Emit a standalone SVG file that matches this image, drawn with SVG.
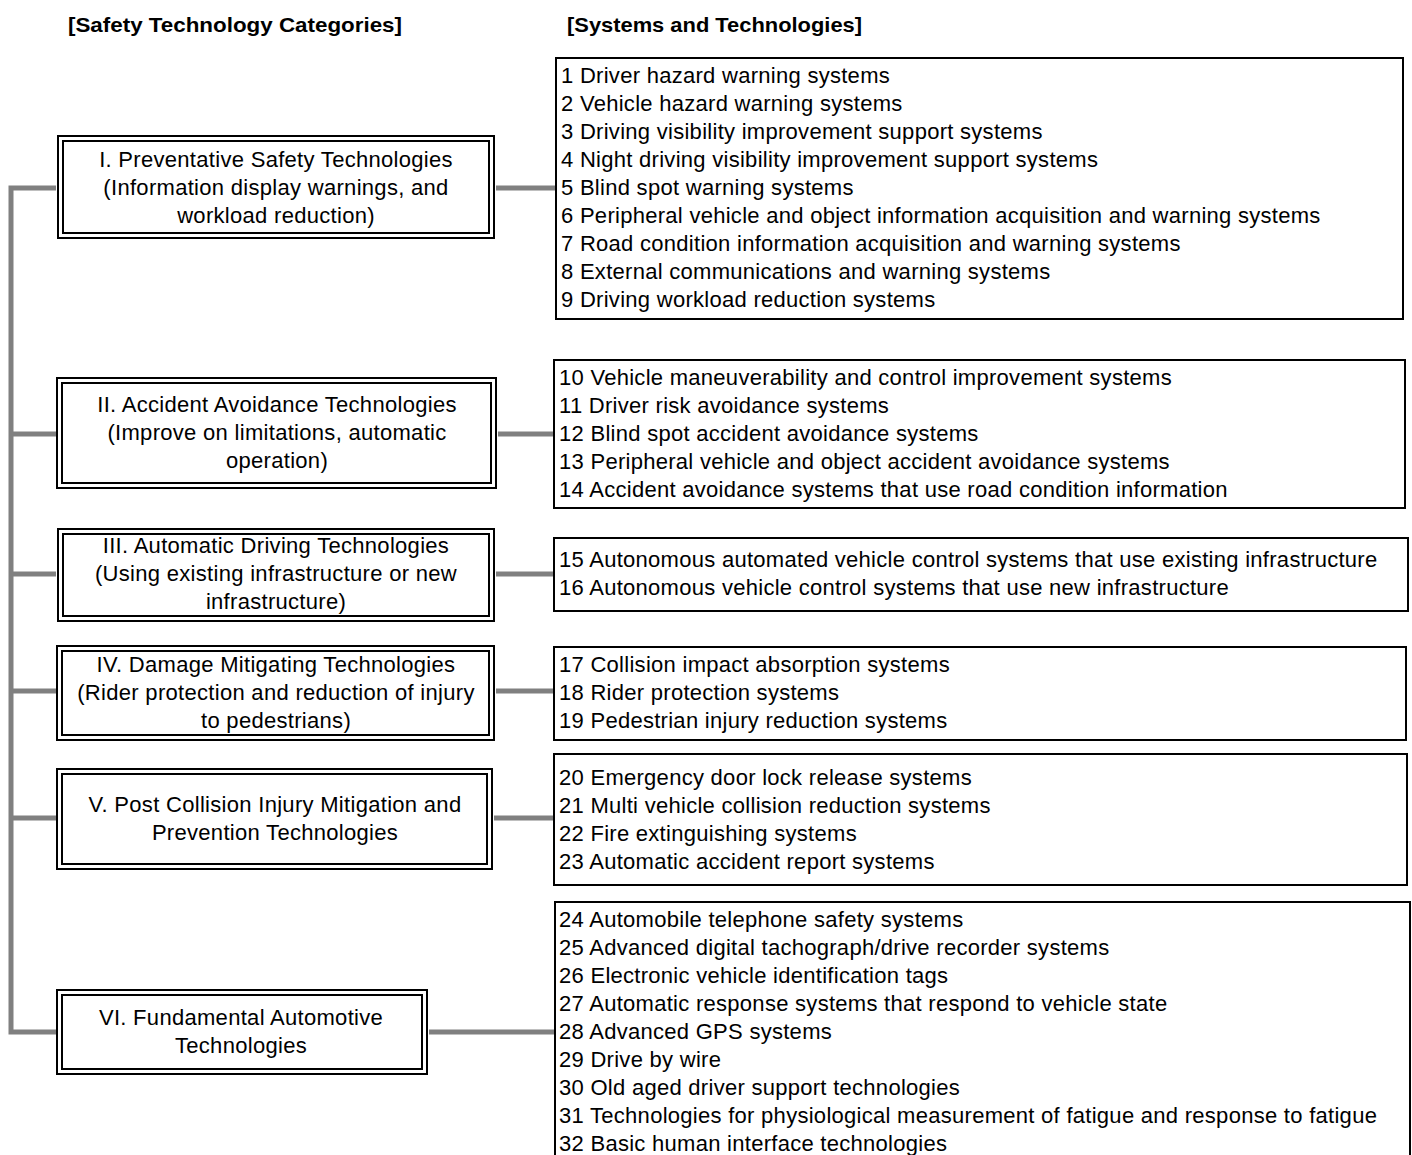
<svg xmlns="http://www.w3.org/2000/svg" width="1412" height="1155" viewBox="0 0 1412 1155">
<style>
text{font-family:"Liberation Sans",Arial,sans-serif;font-size:22px;fill:#000;letter-spacing:0.28px}
.hdr{font-weight:bold;font-size:21px;letter-spacing:0}
.cat{text-anchor:middle;letter-spacing:0.3px}
.o{fill:#fff;stroke:#000;stroke-width:2}
.i{fill:none;stroke:#000;stroke-width:2}
.lst{fill:#fff;stroke:#000;stroke-width:2}
.c{fill:none;stroke:#808080;stroke-width:5}
</style>
<rect width="1412" height="1155" fill="#fff"/>
<text class="hdr" x="68" y="32" textLength="334" lengthAdjust="spacingAndGlyphs">[Safety Technology Categories]</text>
<text class="hdr" x="567" y="32" textLength="295" lengthAdjust="spacingAndGlyphs">[Systems and Technologies]</text>
<g id="connectors">
<path class="c" d="M56 188H11V1032H56"/>
<path class="c" d="M11 434H56M11 574H56M11 691H56M11 818H56"/>
<path class="c" d="M496 188H556M498 434H554M496 574H554M496 691H554M494 818H554M429 1032H555"/>
</g>
<g id="cat1">
<rect class="o" x="58" y="136" width="436" height="102"/><rect class="i" x="63" y="141" width="426" height="92"/>
<text class="cat" x="276" y="167">I. Preventative Safety Technologies</text>
<text class="cat" x="276" y="195">(Information display warnings, and</text>
<text class="cat" x="276" y="223">workload reduction)</text>
</g>
<g id="cat2">
<rect class="o" x="57" y="378" width="439" height="110"/><rect class="i" x="62" y="383" width="429" height="100"/>
<text class="cat" x="277" y="412">II. Accident Avoidance Technologies</text>
<text class="cat" x="277" y="440">(Improve on limitations, automatic</text>
<text class="cat" x="277" y="468">operation)</text>
</g>
<g id="cat3">
<rect class="o" x="58" y="529" width="436" height="92"/><rect class="i" x="63" y="534" width="426" height="82"/>
<text class="cat" x="276" y="553">III. Automatic Driving Technologies</text>
<text class="cat" x="276" y="581">(Using existing infrastructure or new</text>
<text class="cat" x="276" y="609">infrastructure)</text>
</g>
<g id="cat4">
<rect class="o" x="57" y="646" width="437" height="94"/><rect class="i" x="62" y="651" width="427" height="84"/>
<text class="cat" x="276" y="672">IV. Damage Mitigating Technologies</text>
<text class="cat" x="276" y="700">(Rider protection and reduction of injury</text>
<text class="cat" x="276" y="728">to pedestrians)</text>
</g>
<g id="cat5">
<rect class="o" x="57" y="769" width="435" height="100"/><rect class="i" x="62" y="774" width="425" height="90"/>
<text class="cat" x="275" y="812">V. Post Collision Injury Mitigation and</text>
<text class="cat" x="275" y="840">Prevention Technologies</text>
</g>
<g id="cat6">
<rect class="o" x="57" y="990" width="370" height="84"/><rect class="i" x="62" y="995" width="360" height="74"/>
<text class="cat" x="241" y="1025">VI. Fundamental Automotive</text>
<text class="cat" x="241" y="1053">Technologies</text>
</g>
<g id="list1">
<rect class="lst" x="556" y="58" width="847" height="261"/>
<text x="561" y="83">1 Driver hazard warning systems</text>
<text x="561" y="111">2 Vehicle hazard warning systems</text>
<text x="561" y="139">3 Driving visibility improvement support systems</text>
<text x="561" y="167">4 Night driving visibility improvement support systems</text>
<text x="561" y="195">5 Blind spot warning systems</text>
<text x="561" y="223">6 Peripheral vehicle and object information acquisition and warning systems</text>
<text x="561" y="251">7 Road condition information acquisition and warning systems</text>
<text x="561" y="279">8 External communications and warning systems</text>
<text x="561" y="307">9 Driving workload reduction systems</text>
</g>
<g id="list2">
<rect class="lst" x="554" y="360" width="851" height="148"/>
<text x="559" y="385">10 Vehicle maneuverability and control improvement systems</text>
<text x="559" y="413">11 Driver risk avoidance systems</text>
<text x="559" y="441">12 Blind spot accident avoidance systems</text>
<text x="559" y="469">13 Peripheral vehicle and object accident avoidance systems</text>
<text x="559" y="497">14 Accident avoidance systems that use road condition information</text>
</g>
<g id="list3">
<rect class="lst" x="554" y="538" width="854" height="73"/>
<text x="559" y="567">15 Autonomous automated vehicle control systems that use existing infrastructure</text>
<text x="559" y="595">16 Autonomous vehicle control systems that use new infrastructure</text>
</g>
<g id="list4">
<rect class="lst" x="554" y="647" width="852" height="93"/>
<text x="559" y="672">17 Collision impact absorption systems</text>
<text x="559" y="700">18 Rider protection systems</text>
<text x="559" y="728">19 Pedestrian injury reduction systems</text>
</g>
<g id="list5">
<rect class="lst" x="554" y="754" width="853" height="131"/>
<text x="559" y="785">20 Emergency door lock release systems</text>
<text x="559" y="813">21 Multi vehicle collision reduction systems</text>
<text x="559" y="841">22 Fire extinguishing systems</text>
<text x="559" y="869">23 Automatic accident report systems</text>
</g>
<g id="list6">
<rect class="lst" x="555" y="902" width="855" height="270"/>
<text x="559" y="927">24 Automobile telephone safety systems</text>
<text x="559" y="955">25 Advanced digital tachograph/drive recorder systems</text>
<text x="559" y="983">26 Electronic vehicle identification tags</text>
<text x="559" y="1011">27 Automatic response systems that respond to vehicle state</text>
<text x="559" y="1039">28 Advanced GPS systems</text>
<text x="559" y="1067">29 Drive by wire</text>
<text x="559" y="1095">30 Old aged driver support technologies</text>
<text x="559" y="1123">31 Technologies for physiological measurement of fatigue and response to fatigue</text>
<text x="559" y="1151">32 Basic human interface technologies</text>
</g>
</svg>
